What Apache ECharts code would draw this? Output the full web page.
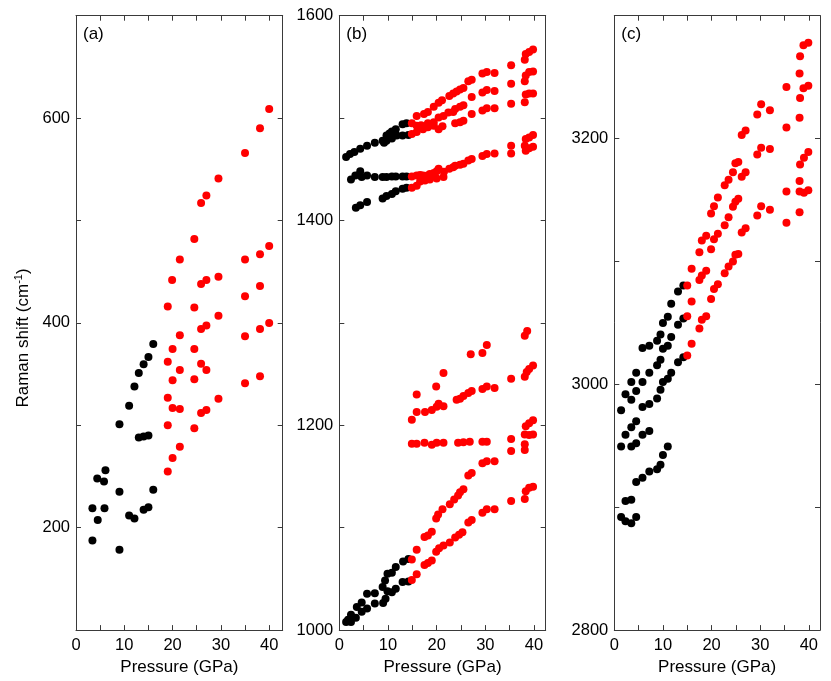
<!DOCTYPE html>
<html>
<head>
<meta charset="utf-8">
<script src="https://cdn.jsdelivr.net/npm/echarts@6/dist/echarts.min.js"></script>
<style>
  html, body { margin: 0; padding: 0; background: #fff; }
  #chart { width: 831px; height: 681px; }
</style>
</head>
<body>
<div id="chart"></div>
<script>
// [pressure (GPa), Raman shift (cm-1)]

// panel (a)
const aBlack = [
  [16.0,379.5],[15.0,366.6],[14.0,359.5],[13.0,351],[12.1,338],[11.0,319],[9.0,301],
  [13.0,288],[14.0,289],[15.0,290],[16.0,237],[9.0,235],[6.1,256],[4.4,248],[5.8,245],
  [3.4,219],[5.9,219],[4.5,207.5],[3.4,187.5],[9.0,178.5],[11.0,212],[12.1,209],
  [14.0,217.5],[15.0,220]
];
const aRed = [
  [40,609],[38.1,590],[35,566],[29.5,541],[27,524.5],[25.9,517],[24.5,482],[21.5,462],
  [19.9,442],[25.9,438],[27,442],[29.5,445],[35,462],[38.1,467],[40,475],[35,426],
  [38.1,436],[19,416],[24.5,415],[29.5,407],[25.9,394],[27,397.5],[38.1,394],[40,400],
  [21.5,388],[35,387],[20,374.5],[24.5,374.5],[19,362],[21.5,354],[25.9,360],[27,354],
  [20,344],[24.5,345],[35,341],[38.1,348],[19,327],[20,317],[21.5,316],[29.5,326],
  [25.9,312],[27,315],[19,300],[24.5,297],[21.5,279],[20,268],[19,255]
];

// panel (b)
const bBlack = [
  [1.4,1462],[2.2,1465],[3.1,1467],[4.3,1470],[5.7,1473],[7.3,1476],[8.9,1478],[9.2,1476],
  [9.7,1483],[9.7,1478],[10.3,1485],[10.8,1487],[10.8,1480],[11.6,1489],[11.8,1483],
  [13.0,1494],[13.0,1483],[13.8,1495],[14.2,1483.5],
  [2.4,1440],[3.3,1444],[4.3,1448],[4.6,1442.5],[5.7,1444],[7.3,1442.5],[8.9,1442.5],
  [9.7,1442.5],[10.8,1443],[11.6,1443],[13.0,1443],[13.8,1443],
  [3.4,1412.5],[4.3,1415],[5.7,1418],[8.9,1421.5],[9.7,1424],[10.8,1426],[11.6,1428.5],
  [13.0,1431],[13.8,1432],
  [14.2,1069.5],[13.1,1067],[11.6,1061.5],[10.8,1056],[9.9,1055],[9.4,1048.5],[8.9,1042],
  [7.3,1036],[5.7,1035.5],[4.6,1027],[3.6,1022.5],[2.4,1015],[1.4,1008],
  [14.2,1047.5],[13.0,1047],[11.6,1040.5],[10.8,1037],[9.9,1038],[9.5,1030.5],[9.0,1026.5],
  [7.3,1026],[5.7,1021],[4.6,1018],[3.4,1012],[2.4,1008],[1.8,1010]
];
const bRed = [
  [39.8,1567],[39.0,1564.5],[38.3,1562.5],[38.1,1557],[35.3,1551.5],[31.9,1544],[30.3,1545],
  [29.4,1543.5],[27.2,1537.5],[26.5,1536],[25.5,1529.5],[24.8,1528],[24.1,1526],[23.4,1524],
  [22.6,1521.5],[21.1,1517.5],[20.4,1515],[19.4,1511],[18.2,1506],[17.4,1504],[15.9,1502],
  [14.9,1495],
  [39.8,1545.5],[39.0,1545],[38.3,1541.5],[38.1,1536],[35.3,1533.5],[31.9,1526.5],
  [30.3,1527.5],[29.4,1525],[27.2,1520.5],[25.5,1512.5],[24.8,1511],[23.8,1509],[23.4,1506],
  [22.4,1505.5],[21.4,1502],[20.4,1500.5],[19.4,1496],[18.2,1495],[16.8,1493],[15.9,1492.5],
  [39.8,1524],[39.0,1524],[38.3,1523],[38.1,1515.5],[35.3,1514],[31.9,1509.5],[30.3,1509.5],
  [29.4,1507.5],[27.2,1504],[25.5,1497.5],[24.8,1496],[23.8,1495],[21.2,1492],[20.4,1489],
  [19.4,1492.5],[18.2,1491],[17.2,1489],[15.9,1486.5],[14.9,1484.5],
  [39.8,1483.5],[39.0,1481],[38.3,1479.5],[38.1,1473],[39.8,1472],[39.0,1470.5],[38.3,1468],
  [35.3,1473],[35.3,1465.5],[31.9,1465.5],[30.3,1465],[29.4,1463],[27.2,1460],[26.5,1458.5],
  [25.5,1455.5],[24.8,1454.5],[23.8,1453.5],[23.4,1452],[22.6,1450.5],[21.5,1447.5],
  [20.4,1450.5],[20.0,1448],[19.4,1446.5],[18.6,1445.5],[18.1,1444],[17.2,1444],[16.6,1444.5],
  [15.9,1444],[14.9,1443],[21.4,1442.5],[20.0,1441],[18.6,1440],[17.6,1439],[16.6,1438],
  [15.9,1434],[14.9,1432],
  [38.6,1292],[38.1,1287.5],[30.3,1278.5],[29.4,1270.5],[27.0,1269.5],[21.4,1251],
  [19.9,1238],[15.9,1230],
  [39.8,1258.5],[39.0,1255],[38.5,1252],[38.1,1247.5],[35.3,1245.5],[31.9,1236.5],
  [30.3,1238],[29.4,1235.5],[27.2,1233.5],[26.5,1231.5],[25.5,1228.5],[24.8,1226],
  [24.1,1225],[21.4,1218.5],[20.4,1221],[20.0,1218],[19.0,1215],[17.6,1213],[15.9,1213],
  [14.9,1205.5],
  [14.9,1182],[15.9,1182],[17.5,1183],[19.0,1181],[20.0,1183],[21.4,1183],[24.4,1183],
  [25.5,1183.5],[26.8,1184],[29.4,1184],[30.3,1184],[35.3,1186.5],[35.3,1175],[38.1,1181.5],
  [38.1,1176],[39.8,1191],[39.0,1190.5],[38.1,1191],
  [39.8,1205],[39.0,1202],[38.3,1199],
  [31.9,1165],[30.3,1165],[29.4,1163],[27.2,1153.5],[26.5,1151],[25.5,1137.5],[24.8,1134.5],
  [24.4,1131.5],[23.6,1127.5],[22.7,1123],[21.2,1118],[20.3,1113],[19.9,1109],[19.0,1096],
  [18.2,1092.5],[17.5,1091],[15.9,1078.5],[14.9,1069],
  [39.8,1140],[39.0,1139],[38.3,1135.5],[38.1,1128],[35.3,1126],[31.9,1118],[30.3,1118],
  [29.4,1114.5],[27.2,1107.5],[26.5,1105],[25.3,1095.5],[24.6,1093],[23.8,1090.5],
  [22.7,1085.5],[21.4,1082.5],[20.5,1080],[19.9,1076.5],[19.0,1068],[18.2,1065.5],
  [17.5,1063.5],[15.9,1054.5],[14.9,1049]
];

// panel (c)
const cBlack = [
  [14.2,3080.5],[13.1,3075.5],[11.7,3065.5],[11.0,3055],[10.0,3050],[14.2,3053.5],
  [13.1,3048.5],[9.5,3040.5],[11.7,3038.5],[8.8,3035.5],[7.2,3031.5],[5.8,3029.5],
  [11.0,3031.5],[10.0,3029],[14.2,3022],[13.1,3018],[9.5,3020],[8.8,3015.5],[11.7,3009.5],
  [11.0,3004.5],[10.0,3002],[9.5,2995.5],[8.8,2988.5],[7.2,2984],[5.8,2981.5],[7.2,3009.5],
  [5.8,3002],[4.5,3009.5],[3.5,3002],[4.5,2994.5],[2.3,2992],[3.5,2987.5],[1.4,2979],
  [4.5,2970],[3.5,2965],[2.3,2959],[7.2,2962],[5.8,2959],[4.5,2952],[3.5,2949.5],
  [1.4,2949.5],[11.0,2949.5],[10.0,2942.5],[9.5,2934.5],[8.8,2931],[7.2,2929],[5.8,2924],
  [4.5,2920.5],[3.5,2906],[2.3,2905],[1.4,2892],[2.3,2888.5],[3.5,2887],[4.5,2892]
];
const cRed = [
  [39.9,3278],[38.9,3276],[38.2,3267],[38.1,3253],[39.9,3243],[38.9,3241],[38.2,3233],
  [35.4,3242],[38.1,3217],[35.4,3209],[30.2,3228],[29.4,3219.5],[32.0,3223],[27.0,3206.5],
  [26.2,3203],[30.2,3192.5],[29.4,3187],[32.0,3191.5],[39.9,3189],[39.0,3184.5],[38.2,3179],
  [38.1,3165.5],[39.9,3158],[39.0,3156],[38.1,3157],[35.4,3157],[38.1,3140],[35.4,3131.5],
  [30.2,3145],[29.4,3137.5],[32.0,3142],[25.5,3181],[24.9,3180],[24.4,3172.5],[23.5,3166.5],
  [22.7,3162],[27.0,3172.5],[26.2,3169],[21.3,3152],[20.5,3145],[19.9,3139],[25.5,3151],
  [24.9,3148.5],[24.4,3144.5],[23.5,3136],[22.7,3129.5],[27.0,3127],[26.2,3123.5],
  [18.9,3121],[18.0,3117],[21.3,3122.5],[20.5,3118],[19.9,3110],[17.5,3107.5],[25.5,3106],
  [24.9,3105.5],[24.4,3100],[23.5,3096],[22.7,3090.5],[18.9,3092.5],[18.0,3088.5],
  [17.5,3085],[15.9,3094],[21.3,3081.5],[20.5,3077.5],[19.9,3069.5],[15.0,3080.5],
  [15.9,3067.5],[15.0,3055.5],[18.9,3055.5],[18.0,3052.5],[17.5,3045.5],[15.9,3033],
  [15.0,3023.5]
];

const panelNames = ['(a)', '(b)', '(c)'];
const yMins = [100, 1000, 2800];
const yMaxs = [700, 1600, 3300];
const xMaxs = [42.8, 42.4, 42.3];

const font = '"Liberation Sans", Arial, sans-serif';
const axisColor = '#3a3a3a';

const grids = [
  { left: 76, top: 15.7, width: 206.7, height: 618.6 },
  { left: 339.3, top: 15.7, width: 206.4, height: 619.3 },
  { left: 614.3, top: 15.7, width: 205.7, height: 618.6 }
];

let xAxis = [], yAxis = [];
grids.forEach((g, i) => {
  let line = { onZero: false, lineStyle: { color: axisColor, width: 1 } };
  let tick = { inside: true, length: 5, lineStyle: { color: axisColor, width: 1 } };
  let xBase = { gridIndex: i, type: 'value', min: 0, max: xMaxs[i], interval: 5,
    axisLine: line, axisTick: tick, splitLine: { show: false } };
  let yBase = { gridIndex: i, type: 'value', min: yMins[i], max: yMaxs[i], interval: 100,
    axisLine: line, axisTick: tick, splitLine: { show: false } };

  xAxis.push(Object.assign({}, xBase, {
    position: 'bottom',
    axisLabel: { color: '#000', fontFamily: font, fontSize: 16.5, margin: 7,
      formatter: v => (v % 10 === 0 ? String(v) : '') },
    name: 'Pressure (GPa)', nameLocation: 'middle', nameGap: 25,
    nameTextStyle: { color: '#000', fontFamily: font, fontSize: 17 }
  }));
  xAxis.push(Object.assign({}, xBase, { position: 'top', axisLabel: { show: false } }));

  yAxis.push(Object.assign({}, yBase, {
    position: 'left',
    axisLabel: { color: '#000', fontFamily: font, fontSize: 16.5, margin: 6,
      formatter: v => (v % 200 === 0 ? String(v) : '') }
  }));
  yAxis.push(Object.assign({}, yBase, { position: 'right', axisLabel: { show: false } }));
});

const groups = [[aBlack, aRed], [bBlack, bRed], [cBlack, cRed]];
let series = [];
groups.forEach((pair, i) => {
  ['#000000', '#ff0000'].forEach((col, k) => {
    series.push({
      type: 'scatter', xAxisIndex: i * 2, yAxisIndex: i * 2,
      data: pair[k], symbol: 'circle', symbolSize: 8,
      itemStyle: { color: col, opacity: 1 }, silent: true
    });
  });
});

let graphic = grids.map((g, i) => ({
  type: 'text', left: g.left + 7, top: 26,
  style: { text: panelNames[i], font: '17px ' + font, fill: '#000' }
}));
graphic.push({
  type: 'text', x: 23, y: 338, rotation: Math.PI / 2,
  style: {
    text: '{n|Raman shift (cm}{s|-1}{n|)}',
    align: 'center', verticalAlign: 'middle',
    rich: {
      n: { fontSize: 17, fontFamily: font, fill: '#000' },
      s: { fontSize: 11, fontFamily: font, fill: '#000', padding: [0, 0, 9, 0] }
    }
  }
});

let chart = echarts.init(document.getElementById('chart'));
chart.setOption({
  animation: false,
  backgroundColor: '#fff',
  grid: grids,
  xAxis: xAxis,
  yAxis: yAxis,
  series: series,
  graphic: graphic
});
</script>
</body>
</html>
